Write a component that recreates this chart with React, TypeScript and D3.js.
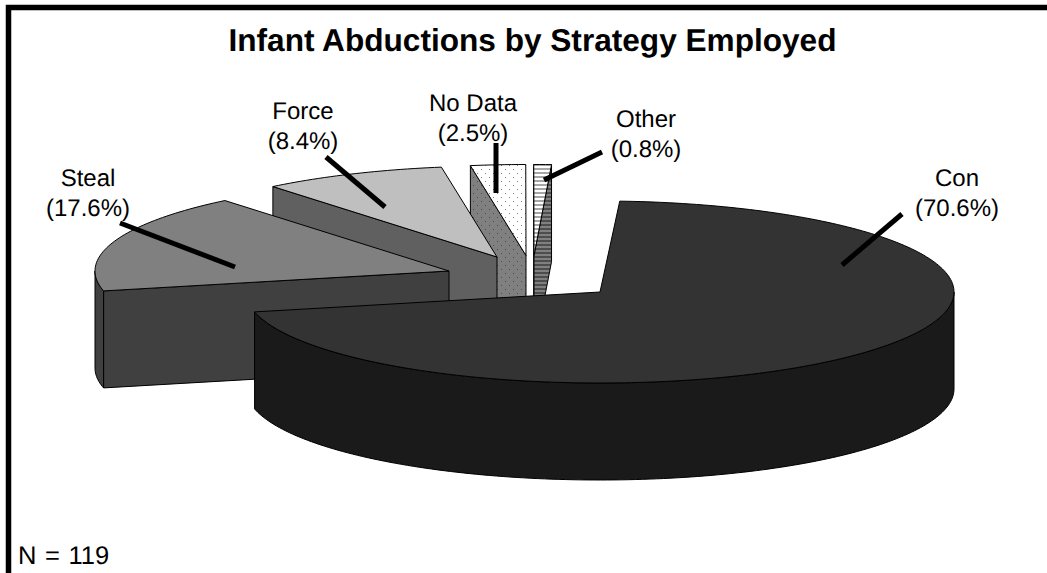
import React from "react";
import * as d3 from "d3";

// Share of abductions per strategy, in percent (as printed on the labels).
const categories = ["Con", "Steal", "Force", "No Data", "Other"];
const percentages = [70.6, 17.6, 8.4, 2.5, 0.8];
const title = "Infant Abductions by Strategy Employed";
const sampleNote = "N = 119";

const WIDTH = 1047;
const HEIGHT = 573;
const RX = 354;
const RY = 91;
const DEPTH = 97;
const FIRST_ANGLE = (3.2 * Math.PI) / 180;
const FONT = "'Liberation Sans', Arial, sans-serif";

// Pulled-out hub of each wedge on the page.
const hubs: Record<string, [number, number]> = {
  Con: [600, 292],
  Steal: [449, 271],
  Force: [497, 257],
  "No Data": [526, 255.5],
  Other: [534, 255.5],
};

const fills: Record<string, { top: string; cut: string; rim: string }> = {
  Con: { top: "#333333", cut: "#262626", rim: "#1a1a1a" },
  Steal: { top: "#808080", cut: "#404040", rim: "#404040" },
  Force: { top: "#bfbfbf", cut: "#606060", rim: "#606060" },
  "No Data": { top: "url(#dotsLight)", cut: "url(#dotsDark)", rim: "url(#dotsDark)" },
  Other: { top: "url(#stripesLight)", cut: "url(#stripesDark)", rim: "url(#stripesDark)" },
};

// Callout placement: text centre, first baseline, then the leader's two ends.
const callouts: Record<string, { x: number; y: number; from: [number, number]; to: [number, number] }> = {
  Con: { x: 957, y: 186, from: [902, 214], to: [842, 265] },
  Steal: { x: 88, y: 186, from: [120, 223], to: [235, 267] },
  Force: { x: 303, y: 119, from: [326, 157], to: [385, 207] },
  "No Data": { x: 473, y: 111, from: [496, 143], to: [496, 193] },
  Other: { x: 646, y: 127, from: [602, 152], to: [544, 180] },
};

const total = d3.sum(percentages);
const pie = d3
  .pie<number>()
  .sort(null)
  .startAngle(FIRST_ANGLE)
  .endAngle(FIRST_ANGLE + (2 * Math.PI * total) / 100);
const wedges = pie(percentages);

const toPath = d3.line<[number, number]>();

// Point on the tilted disc: angle runs clockwise from the far side.
const onRim = (hub: [number, number], a: number, drop = 0): [number, number] => [
  hub[0] + RX * Math.sin(a),
  hub[1] - RY * Math.cos(a) + drop,
];

const arcPoints = (hub: [number, number], a0: number, a1: number, drop = 0) => {
  const steps = Math.max(2, Math.ceil(Math.abs(a1 - a0) / 0.02));
  return d3.range(steps + 1).map((i) => onRim(hub, a0 + ((a1 - a0) * i) / steps, drop));
};

function Wedge({ name, a0, a1 }: { name: string; a0: number; a1: number }) {
  const hub = hubs[name];
  const style = fills[name];
  const low: [number, number] = [hub[0], hub[1] + DEPTH];
  const cut = (a: number) =>
    toPath([hub, onRim(hub, a), onRim(hub, a, DEPTH), low])! + "Z";

  // The rim faces the viewer only on the near half of the disc.
  const rimStart = Math.max(a0, Math.PI / 2);
  const rimEnd = Math.min(a1, (3 * Math.PI) / 2);
  const rim =
    rimStart < rimEnd
      ? toPath([
          ...arcPoints(hub, rimStart, rimEnd),
          ...arcPoints(hub, rimEnd, rimStart, DEPTH),
        ])! + "Z"
      : null;

  const top = toPath([hub, ...arcPoints(hub, a0, a1)])! + "Z";
  const edge = { stroke: "#000", strokeWidth: 1, strokeLinejoin: "round" as const };

  return (
    <g>
      {Math.sin(a0) < 0 && <path d={cut(a0)} fill={style.cut} {...edge} />}
      {Math.sin(a1) > 0 && <path d={cut(a1)} fill={style.cut} {...edge} />}
      {rim && <path d={rim} fill={style.rim} {...edge} />}
      <path d={top} fill={style.top} {...edge} />
    </g>
  );
}

function Dots({ id, bg, dot }: { id: string; bg: string; dot: string }) {
  return (
    <pattern id={id} width={8} height={8} patternUnits="userSpaceOnUse">
      <rect width={8} height={8} fill={bg} />
      <rect x={1} y={1} width={1} height={1} fill={dot} />
      <rect x={5} y={5} width={1} height={1} fill={dot} />
    </pattern>
  );
}

function Stripes({ id, bg, line }: { id: string; bg: string; line: string }) {
  return (
    <pattern id={id} width={4} height={4} patternUnits="userSpaceOnUse">
      <rect width={4} height={4} fill={bg} />
      <rect y={0} width={4} height={2} fill={line} />
    </pattern>
  );
}

export default function App() {
  return (
    <svg
      width={WIDTH}
      height={HEIGHT}
      viewBox={`0 0 ${WIDTH} ${HEIGHT}`}
      textRendering="geometricPrecision"
      style={{ position: "fixed", left: 0, top: 0, background: "#fff" }}
    >
      <defs>
        <Dots id="dotsLight" bg="#ffffff" dot="#808080" />
        <Dots id="dotsDark" bg="#808080" dot="#4d4d4d" />
        <Stripes id="stripesLight" bg="#ffffff" line="#a6a6a6" />
        <Stripes id="stripesDark" bg="#808080" line="#4d4d4d" />
      </defs>

      {/* Frame: only the top and left rules */}
      <path d={`M8.5 ${HEIGHT}V7.5H${WIDTH}`} fill="none" stroke="#000" strokeWidth={5.5} />

      <text
        x={532.5}
        y={51}
        textAnchor="middle"
        fontFamily={FONT}
        fontWeight="bold"
        fontSize={31.6}
        fill="#000"
      >
        {title}
      </text>

      {/* Painted far wedges first so the large wedge ends up on top */}
      {wedges
        .map((w, i) => ({ name: categories[i], a0: w.startAngle, a1: w.endAngle }))
        .reverse()
        .map((w) => (
          <Wedge key={w.name} {...w} />
        ))}

      {categories.map((name, i) => {
        const c = callouts[name];
        return (
          <g key={name}>
            <path d={toPath([c.from, c.to])!} stroke="#000" strokeWidth={5} fill="none" />
            <text x={c.x} y={c.y} textAnchor="middle" fontFamily={FONT} fontSize={24} fill="#000">
              <tspan x={c.x}>{name}</tspan>
              <tspan x={c.x} dy={30}>{`(${percentages[i]}%)`}</tspan>
            </text>
          </g>
        );
      })}

      <text x={18} y={564} fontFamily={FONT} fontSize={25.5} wordSpacing={1.5} fill="#000">
        {sampleNote}
      </text>
    </svg>
  );
}
